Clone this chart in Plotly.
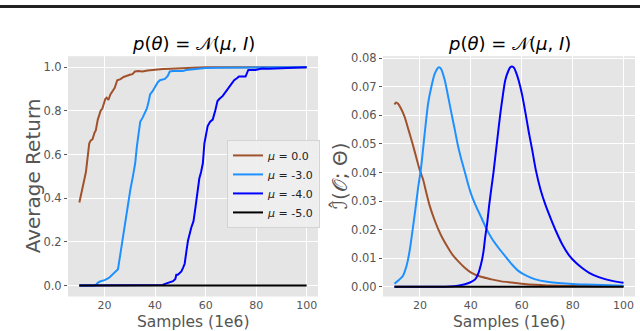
import plotly.graph_objects as go

# ---- data ----
labels = ["μ = 0.0", "μ = -3.0", "μ = -4.0", "μ = -5.0"]
colors = ["#a0522d", "#1e90ff", "#0000ff", "#000000"]

# left panel: average return
ret_x_0 = [10, 11, 12, 12.6, 13.3, 13.9, 14.5, 15.2, 16, 16.5, 17.3, 18, 18.4, 19.1, 19.7, 20.3,
           20.8, 21.5, 22.3, 23, 24, 25, 26.3, 27.5, 28.9, 30, 31, 32, 33.3, 35, 37, 40, 43, 46,
           50, 53, 60, 70, 80, 90, 100]
ret_y_0 = [0.38, 0.44, 0.49, 0.52, 0.59, 0.65, 0.665, 0.67, 0.70, 0.71, 0.76, 0.79, 0.80, 0.81,
           0.83, 0.855, 0.86, 0.85, 0.875, 0.89, 0.905, 0.94, 0.945, 0.955, 0.962, 0.965, 0.968,
           0.98, 0.982, 0.98, 0.985, 0.99, 0.992, 0.993, 0.995, 0.998, 1.0, 1.0, 1.0, 1.0, 1.0]
ret_x_3 = [10, 16, 16.7, 17.5, 18.4, 20, 21.7, 23, 24.3, 25.3, 26.3, 27.2, 28.2, 29.2, 30.2, 31.2,
           32.1, 32.8, 33.5, 34.1, 35.1, 36, 36.7, 37.4, 38, 39, 40, 41, 41.9, 43, 43.9, 45, 45.8,
           47, 49.7, 51, 52.3, 55, 56.2, 58.8, 60, 65, 70, 80, 90, 100]
ret_y_3 = [0, 0, 0.005, 0.015, 0.02, 0.025, 0.035, 0.05, 0.065, 0.075, 0.15, 0.22, 0.29, 0.37,
           0.44, 0.5, 0.56, 0.64, 0.7, 0.75, 0.77, 0.79, 0.81, 0.84, 0.875, 0.89, 0.91, 0.93, 0.94,
           0.945, 0.946, 0.96, 0.98, 0.982, 0.98, 0.982, 0.987, 0.99, 0.994, 0.994, 0.996, 0.997,
           0.998, 0.999, 1.0, 1.0]
ret_x_4 = [10, 40, 43, 44.5, 45.5, 47.1, 48, 48.4, 49, 50.4, 51, 51.7, 52.3, 53, 54.3, 55.2, 56,
           56.9, 57.5, 58.2, 58.9, 59.5, 60.2, 60.8, 61.8, 62.8, 63.8, 64.7, 65.5, 66.7, 67.5, 68.6,
           70, 71.3, 72.5, 73.2, 75.8, 76.3, 76.9, 79.7, 82.3, 85, 90, 95, 100]
ret_y_4 = [0, 0, 0.003, 0.01, 0.015, 0.02, 0.03, 0.05, 0.05, 0.065, 0.08, 0.10, 0.15, 0.205,
           0.265, 0.295, 0.36, 0.44, 0.49, 0.52, 0.56, 0.65, 0.70, 0.73, 0.75, 0.76, 0.80, 0.845,
           0.855, 0.867, 0.88, 0.897, 0.92, 0.94, 0.95, 0.957, 0.957, 0.975, 0.987, 0.987, 0.994,
           0.993, 0.995, 0.996, 1.0]
ret_x_5 = [10, 100]
ret_y_5 = [0, 0]

# right panel: mutual information estimate
mi_x_0 = [10, 10.6, 11.5, 12.5, 14, 15.5, 17.2, 18.5, 19.9, 21.2, 22.5, 23.8, 25.5, 27.1, 29, 31.1,
          33, 35, 37.5, 40.3, 44, 48.2, 52, 56.2, 60, 65.4, 70, 80, 90, 100]
mi_y_0 = [0.0638, 0.0645, 0.0640, 0.0625, 0.0595, 0.055, 0.0498, 0.0455, 0.041, 0.0377, 0.033,
          0.0285, 0.024, 0.0204, 0.0168, 0.0136, 0.011, 0.009, 0.0068, 0.0049, 0.0035, 0.0026,
          0.0019, 0.0015, 0.0011, 0.0007, 0.0005, 0.0003, 0.0002, 0.0002]
mi_x_3 = [10, 11.5, 13.3, 14.3, 15.2, 16.2, 17.2, 18.2, 19.2, 20.5, 21.8, 23.2, 24.5, 25.8, 26.8,
          27.5, 28.3, 29.8, 31, 32.4, 33.7, 35, 36.3, 37.7, 39, 40.3, 42.3, 44.3, 46.3, 48.2, 51,
          53.5, 56, 58.8, 62, 65.4, 70, 78.6, 85, 92, 100]
mi_y_3 = [0.0011, 0.0022, 0.0038, 0.006, 0.009, 0.014, 0.0204, 0.027, 0.034, 0.042, 0.053, 0.064,
          0.070, 0.0745, 0.0763, 0.0768, 0.0763, 0.0722, 0.067, 0.0607, 0.055, 0.0492, 0.0445,
          0.040, 0.0357, 0.032, 0.0277, 0.0239, 0.020, 0.017, 0.0135, 0.0107, 0.008, 0.0055,
          0.0038, 0.0026, 0.0018, 0.0011, 0.0008, 0.0006, 0.0004]
mi_x_4 = [10, 31.8, 35, 37.7, 39.7, 41.7, 43, 44.3, 45, 45.6, 46.4, 47.2, 48, 48.9, 50.2, 51.6,
          52.5, 53.5, 54.8, 55.5, 56.2, 57, 57.7, 58.8, 60.2, 61.5, 62.8, 64.1, 65.5, 67.4, 69.4,
          71.4, 73.7, 76, 78.6, 81.3, 84, 86.5, 90, 93.1, 96.5, 100]
mi_y_4 = [0, 0.0001, 0.0004, 0.0009, 0.0015, 0.0026, 0.0048, 0.009, 0.0125, 0.017, 0.022, 0.0285,
          0.034, 0.040, 0.050, 0.0607, 0.0665, 0.0722, 0.0757, 0.0768, 0.0771, 0.0766, 0.0752,
          0.0722, 0.067, 0.0607, 0.054, 0.048, 0.041, 0.034, 0.0285, 0.0239, 0.019, 0.0147, 0.011,
          0.0084, 0.0064, 0.0049, 0.0035, 0.0026, 0.0019, 0.0014]
mi_x_5 = [10, 100]
mi_y_5 = [0, 0]

x_ticks = [20, 40, 60, 80, 100]
ret_ticks = [0.0, 0.2, 0.4, 0.6, 0.8, 1.0]
mi_ticks = [0.00, 0.01, 0.02, 0.03, 0.04, 0.05, 0.06, 0.07, 0.08]

W, H = 640, 331
FONT = "DejaVu Sans"
TICKCOL = "#555555"

fig = go.Figure()

left = [(ret_x_0, ret_y_0), (ret_x_3, ret_y_3), (ret_x_4, ret_y_4), (ret_x_5, ret_y_5)]
right = [(mi_x_0, mi_y_0), (mi_x_3, mi_y_3), (mi_x_4, mi_y_4), (mi_x_5, mi_y_5)]

for (xs, ys), lab, col in zip(left, labels, colors):
    fig.add_trace(go.Scatter(x=xs, y=ys, mode="lines", name="<i>μ</i>" + lab[1:],
                             line=dict(color=col, width=2), xaxis="x", yaxis="y"))
for (xs, ys), lab, col in zip(right, labels, colors):
    fig.add_trace(go.Scatter(x=xs, y=ys, mode="lines", showlegend=False,
                             line=dict(color=col, width=2, shape="spline", smoothing=0.6),
                             xaxis="x2", yaxis="y2"))

def px_x(p):
    return p / W

def px_y(p):
    return 1 - p / H

axis_common = dict(showgrid=True, gridcolor="white", gridwidth=1, zeroline=False,
                   showline=False, ticks="outside", ticklen=3, tickcolor=TICKCOL,
                   tickfont=dict(family=FONT, size=11.5, color=TICKCOL))
xaxis_common = dict(axis_common, ticks="", tickfont=dict(family=FONT, size=11, color=TICKCOL))

ydom = [px_y(296), px_y(52)]
fig.update_layout(
    width=W, height=H,
    margin=dict(l=0, r=0, t=0, b=0),
    paper_bgcolor="white",
    plot_bgcolor="#e5e5e5",
    font=dict(family=FONT),
    xaxis=dict(domain=[px_x(68), px_x(318)], range=[5.5, 104.5], tickvals=x_ticks,
               anchor="y", **xaxis_common),
    yaxis=dict(domain=ydom, range=[-0.05, 1.05], tickvals=ret_ticks, tickformat=".1f",
               anchor="x", **axis_common),
    xaxis2=dict(domain=[px_x(383), px_x(635)], range=[5.5, 104.5], tickvals=x_ticks,
                anchor="y2", **xaxis_common),
    yaxis2=dict(domain=ydom, range=[-0.0034, 0.0807], tickvals=mi_ticks, tickformat=".2f",
                anchor="x2", **axis_common),
    legend=dict(x=px_x(227), y=px_y(137), xanchor="left", yanchor="top",
                bgcolor="rgba(238,238,238,0.9)", bordercolor="#d4d4d4", borderwidth=1,
                font=dict(family=FONT, size=11, color="#222222"), itemwidth=30,
                tracegroupgap=0),
    showlegend=True,
)

title = "<i>p</i>(<i>θ</i>) = 𝒩(<i>μ</i>, <i>I</i>)"
ann = [
    dict(text=title, x=px_x(193), y=px_y(39), font=dict(size=18, color="black")),
    dict(text=title, x=px_x(509), y=px_y(39), font=dict(size=18, color="black")),
    dict(text="Samples (1e6)", x=px_x(193), y=px_y(322), font=dict(size=15.5, color=TICKCOL)),
    dict(text="Samples (1e6)", x=px_x(509), y=px_y(322), font=dict(size=15.5, color=TICKCOL)),
    dict(text="Average Return", x=px_x(33), y=px_y(174), textangle=-90,
         font=dict(size=20, color=TICKCOL)),
    dict(text="ℐ̂(𝒪; Θ)", x=px_x(340), y=px_y(174), textangle=-90,
         font=dict(size=20, color=TICKCOL)),
]
for a in ann:
    fig.add_annotation(xref="paper", yref="paper", showarrow=False,
                       xanchor="center", yanchor="middle", **a)

# dark rule across the top of the page
fig.add_shape(type="rect", xref="paper", yref="paper", x0=0, x1=1, y0=px_y(3), y1=1,
              fillcolor="#222222", line=dict(width=0))

fig.write_html("out.html", config={"displayModeBar": False},
               post_script="document.body.style.margin='0';document.body.style.padding='0';")
